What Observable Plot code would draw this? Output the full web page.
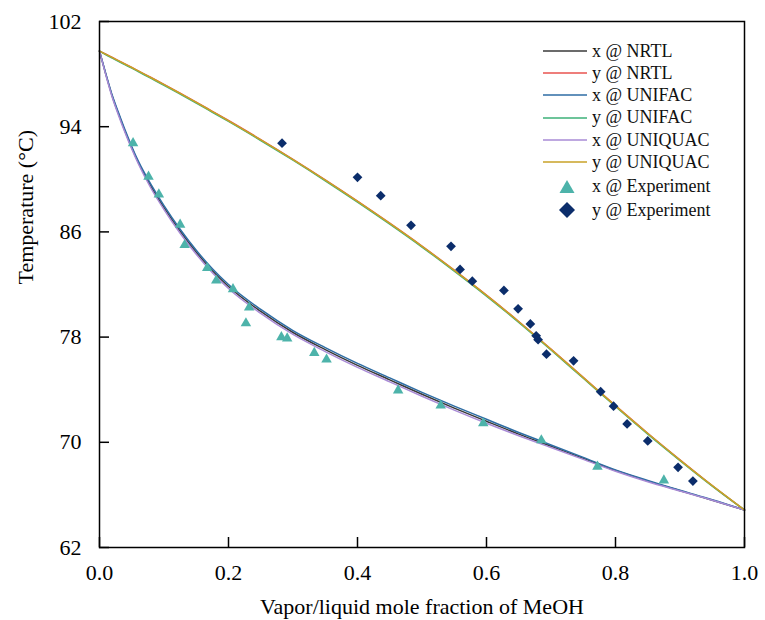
<!DOCTYPE html>
<html>
<head>
<meta charset="utf-8">
<script src="https://cdn.jsdelivr.net/npm/d3@7"></script>
<script src="https://cdn.jsdelivr.net/npm/@observablehq/plot@0.6"></script>
<style>
  body { margin: 0; background: #fff; }
  #wrap, #wrap svg, #wrap text { font-family: "Liberation Serif", "Tinos", "Times New Roman", Times, "DejaVu Serif", serif !important; }
  #wrap { position: relative; width: 765px; height: 620px; }
  #legend { position: absolute; left: 0; top: 0; width: 765px; height: 620px; pointer-events: none; }
  .lrow { position: absolute; left: 540px; height: 20px; display: flex; align-items: center; font-size: 18px; color: #111; white-space: nowrap; }
  .lrow svg { width: 50px; height: 20px; margin-right: 2px; }
</style>
</head>
<body>
<div id="wrap"><div id="chart"></div><div id="legend"></div></div>
<script>
// ---- data ----
const moleFraction = [0, 0.01, 0.02, 0.03, 0.04, 0.05, 0.06, 0.08, 0.10, 0.125, 0.15, 0.175, 0.20, 0.25, 0.30, 0.35, 0.40, 0.45, 0.50, 0.55, 0.60, 0.65, 0.70, 0.75, 0.80, 0.85, 0.90, 0.95, 1.00];

const bubbleNRTL    = [99.75, 97.95, 96.28, 94.9, 93.6, 92.4, 91.3, 89.45, 87.85, 86.05, 84.45, 83.05, 81.85, 79.95, 78.35, 77.05, 75.85, 74.75, 73.65, 72.6, 71.6, 70.62, 69.7, 68.78, 67.85, 67.05, 66.32, 65.6, 64.85];
const dewNRTL       = [99.75, 99.51, 99.26, 99.01, 98.76, 98.51, 98.25, 97.74, 97.22, 96.55, 95.87, 95.17, 94.47, 93.02, 91.52, 89.96, 88.34, 86.66, 84.92, 83.09, 81.19, 79.19, 77.09, 74.94, 72.79, 70.69, 68.67, 66.71, 64.85];
const bubbleUNIFAC  = [99.75, 98.0, 96.35, 95.0, 93.7, 92.5, 91.4, 89.6, 88.0, 86.2, 84.6, 83.2, 82.0, 80.1, 78.5, 77.2, 76.0, 74.9, 73.8, 72.75, 71.75, 70.75, 69.8, 68.85, 67.9, 67.1, 66.35, 65.63, 64.85];
const dewUNIFAC     = [99.75, 99.47, 99.21, 98.95, 98.7, 98.45, 98.19, 97.67, 97.15, 96.48, 95.8, 95.1, 94.4, 92.95, 91.45, 89.89, 88.27, 86.59, 84.85, 83.02, 81.12, 79.12, 77.02, 74.87, 72.72, 70.62, 68.61, 66.67, 64.85];
const bubbleUNIQUAC = [99.75, 97.9, 96.2, 94.8, 93.5, 92.3, 91.2, 89.3, 87.7, 85.9, 84.3, 82.9, 81.7, 79.8, 78.2, 76.9, 75.7, 74.6, 73.5, 72.45, 71.45, 70.5, 69.6, 68.7, 67.8, 67.0, 66.3, 65.6, 64.85];
const dewUNIQUAC    = [99.75, 99.5, 99.25, 99.0, 98.75, 98.5, 98.24, 97.72, 97.2, 96.53, 95.85, 95.15, 94.45, 93.0, 91.5, 89.94, 88.32, 86.64, 84.9, 83.07, 81.17, 79.17, 77.07, 74.92, 72.77, 70.67, 68.65, 66.7, 64.85];

const expLiquidX = [0.052, 0.076, 0.092, 0.125, 0.132, 0.167, 0.181, 0.207, 0.232, 0.227, 0.282, 0.291, 0.333, 0.352, 0.463, 0.529, 0.595, 0.685, 0.772, 0.875];
const expLiquidT = [92.75, 90.2, 88.85, 86.55, 85.0, 83.25, 82.3, 81.65, 80.25, 79.05, 78.0, 77.9, 76.8, 76.3, 73.95, 72.8, 71.45, 70.15, 68.15, 67.1];
const expVaporY  = [0.283, 0.400, 0.436, 0.483, 0.545, 0.559, 0.578, 0.627, 0.649, 0.668, 0.677, 0.680, 0.693, 0.735, 0.777, 0.797, 0.818, 0.850, 0.897, 0.920];
const expVaporT  = [92.75, 90.15, 88.75, 86.5, 84.9, 83.15, 82.25, 81.55, 80.15, 79.0, 78.1, 77.8, 76.7, 76.2, 73.85, 72.75, 71.4, 70.1, 68.1, 67.05];

const xTicks = [0, 0.2, 0.4, 0.6, 0.8, 1.0];
const yTicks = [62, 70, 78, 86, 94, 102];

const seriesNames = ["x @ NRTL", "y @ NRTL", "x @ UNIFAC", "y @ UNIFAC", "x @ UNIQUAC", "y @ UNIQUAC"];
const seriesColors = ["#3a3a3a", "#e8534f", "#2e6da4", "#3cb179", "#a98bd6", "#c9a227"];
const seriesValues = [bubbleNRTL, dewNRTL, bubbleUNIFAC, dewUNIFAC, bubbleUNIQUAC, dewUNIQUAC];
const expNames = ["x @ Experiment", "y @ Experiment"];
const expColors = ["#4db3aa", "#0b2d6b"];

const xTitle = "Vapor/liquid mole fraction of MeOH";
const yTitle = "Temperature (°C)";

// ---- build tables ----
const curveRows = seriesNames.flatMap((name, s) =>
  moleFraction.map((x, i) => ({series: name, x, T: seriesValues[s][i]})));
const liquidRows = expLiquidX.map((x, i) => ({x, T: expLiquidT[i]}));
const vaporRows = expVaporY.map((x, i) => ({x, T: expVaporT[i]}));

const font = "'Liberation Serif', Tinos, 'Times New Roman', Times, 'DejaVu Serif', serif";

const chart = Plot.plot({
  width: 765,
  height: 620,
  marginLeft: 99,
  marginRight: 21,
  marginTop: 21,
  marginBottom: 73,
  style: {fontFamily: font, fontSize: "22px", color: "#000", background: "#fff", overflow: "visible"},
  x: {domain: [0, 1]},
  y: {domain: [62, 102]},
  color: {domain: seriesNames, range: seriesColors},
  marks: [
    Plot.line(curveRows, {x: "x", y: "T", z: "series", stroke: "series", strokeWidth: 1.5, curve: "monotone-x"}),
    Plot.dot(liquidRows, {x: "x", y: "T", symbol: "triangle", r: 3.9, fill: expColors[0], stroke: "none"}),
    Plot.dot(vaporRows, {x: "x", y: "T", symbol: "diamond2", r: 4.4, fill: expColors[1], stroke: "none"}),
    Plot.frame({stroke: "#000", strokeWidth: 1.5}),
    Plot.axisX(xTicks, {anchor: "bottom", tickSize: -10, tickPadding: 27, strokeWidth: 1.5, tickFormat: d3.format(".1f"), fontSize: 22, label: null}),
    Plot.axisY(yTicks, {anchor: "left", tickSize: -10, tickPadding: 28, strokeWidth: 1.5, fontSize: 22, label: null}),
    Plot.text([xTitle], {frameAnchor: "bottom", dy: 59, text: d => d, fontSize: 22, lineAnchor: "middle"}),
    Plot.text([yTitle], {frameAnchor: "left", dx: -74, rotate: -90, text: d => d, fontSize: 22, lineAnchor: "middle"})
  ]
});
document.getElementById("chart").appendChild(chart);

// ---- legend (inside plot, top right) ----
const legend = document.getElementById("legend");
const rowCenters = [51, 73, 95, 117.5, 140, 162, 186.5, 210];
const legendItems = seriesNames.map((n, i) => ({name: n, color: seriesColors[i], kind: "line"}))
  .concat([{name: expNames[0], color: expColors[0], kind: "triangle"}, {name: expNames[1], color: expColors[1], kind: "diamond"}]);
legendItems.forEach((item, i) => {
  const row = document.createElement("div");
  row.className = "lrow";
  row.style.top = (rowCenters[i] - 10) + "px";
  let sw;
  if (item.kind === "line") sw = `<line x1="3" y1="10" x2="47" y2="10" stroke="${item.color}" stroke-width="1.5"/>`;
  else if (item.kind === "triangle") sw = `<path d="M27,3 L34.5,16 L19.5,16 Z" fill="${item.color}"/>`;
  else sw = `<path d="M27,2 L35,10 L27,18 L19,10 Z" fill="${item.color}"/>`;
  row.innerHTML = `<svg viewBox="0 0 50 20">${sw}</svg><span>${item.name}</span>`;
  legend.appendChild(row);
});
</script>
</body>
</html>
